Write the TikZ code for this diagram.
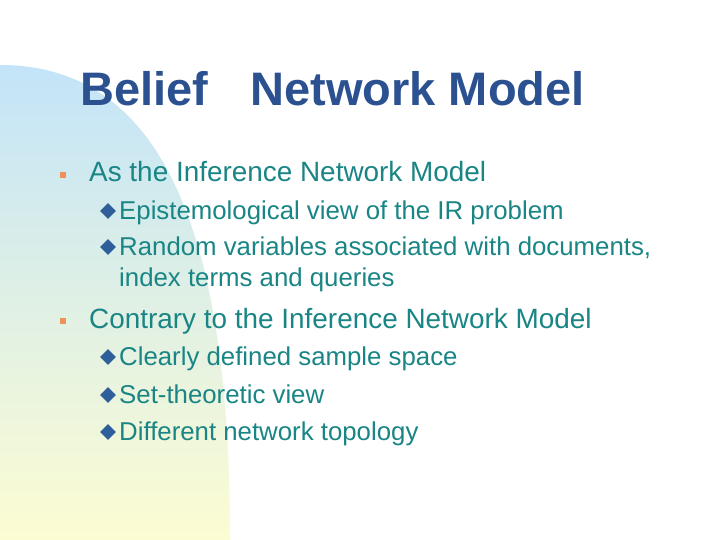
\documentclass[tikz,border=0pt]{standalone}
\usepackage{fontspec}
\setmainfont{Liberation Sans}
\usetikzlibrary{shapes.geometric}
\definecolor{tealtxt}{HTML}{1A8585}
\definecolor{titleblue}{HTML}{2B5190}
\definecolor{dia}{HTML}{2F5F9A}
\definecolor{sq}{HTML}{F0905A}
\begin{document}
\begin{tikzpicture}[x=1pt,y=-1pt,
  item/.style={anchor=base west,text=tealtxt,font=\fontsize{27.9}{32}\selectfont,inner sep=0},
  sub/.style={anchor=base west,text=tealtxt,font=\fontsize{25.8}{30}\selectfont,inner sep=0,align=left},
  sqb/.style={fill=sq,minimum size=6pt,inner sep=0},
  diab/.style={fill=dia,shape=diamond,minimum size=16pt,inner sep=0}]
\useasboundingbox (0,0) rectangle (720,540);
\fill[white] (0,0) rectangle (720,540);
\begin{scope}
\clip (0,0) rectangle (720,540);
\shade[top color={rgb,255:red,195;green,228;blue,248}, bottom color={rgb,255:red,252;green,252;blue,210}]
  (0,65) .. controls (175,65) and (230,260) .. (230,540) -- (0,540) -- cycle;
\end{scope}
\node[anchor=base west,text=titleblue,font=\bfseries\fontsize{47}{54}\selectfont,inner sep=0] (title) at (80,106) {Belief\hspace{0.9em}Network Model};
\node[sqb] (b1) at (63,175) {};
\node[item] (i1) at (89,182) {As the Inference Network Model};
\node[diab] (d1) at (108,211) {};
\node[sub] (s1) at (119,219) {Epistemological view of the IR problem};
\node[diab] (d2) at (108,247) {};
\node[sub] (s2) at (119,255) {Random variables associated with documents,};
\node[sub] (s2b) at (119,286) {index terms and queries};
\node[sqb] (b2) at (63,321) {};
\node[item] (i2) at (89,328) {Contrary to the Inference Network Model};
\node[diab] (d3) at (108,357) {};
\node[sub] (s3) at (119,365) {Clearly defined sample space};
\node[diab] (d4) at (108,395) {};
\node[sub] (s4) at (119,403) {Set-theoretic view};
\node[diab] (d5) at (108,432) {};
\node[sub] (s5) at (119,440) {Different network topology};
\end{tikzpicture}
\end{document}
